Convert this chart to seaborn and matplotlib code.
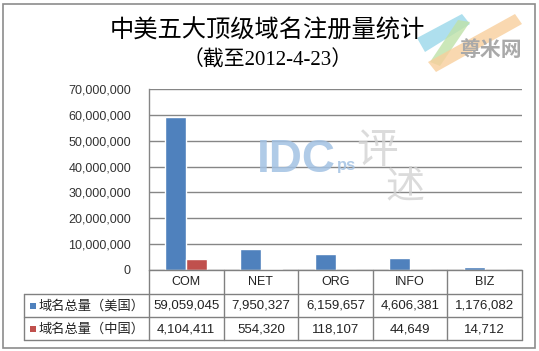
import matplotlib
matplotlib.use("Agg")
import matplotlib.pyplot as plt
import seaborn as sns
import pandas as pd
from matplotlib.lines import Line2D
from matplotlib.patches import Rectangle, Polygon

# ---- data ----
categories = ["COM", "NET", "ORG", "INFO", "BIZ"]
us_values = [59059045, 7950327, 6159657, 4606381, 1176082]
cn_values = [4104411, 554320, 118107, 44649, 14712]
series_names = ["域名总量（美国）", "域名总量（中国）"]
y_ticks = [0, 10000000, 20000000, 30000000, 40000000, 50000000, 60000000, 70000000]
title = "中美五大顶级域名注册量统计"
subtitle = "（截至2012-4-23）"

BLUE = "#4F81BD"
RED = "#C0504D"

df = pd.DataFrame({
    "cat": categories * 2,
    "series": [series_names[0]] * len(categories) + [series_names[1]] * len(categories),
    "value": us_values + cn_values,
})

sns.set_style("white")
plt.rcParams["font.family"] = ["Liberation Sans", "Noto Sans CJK SC", "DejaVu Sans"]

W, H = 539, 351
fig = plt.figure(figsize=(W / 100, H / 100), dpi=100)
fig.patch.set_facecolor("white")

def fx(x):
    return x / W

def fy(y):
    return 1 - y / H

L, R, T, B = 149, 522, 89, 270
ax = fig.add_axes([fx(L), fy(B), fx(R) - fx(L), fy(T) - fy(B)])
sns.barplot(data=df, x="cat", y="value", hue="series", order=categories,
            hue_order=series_names, palette=[BLUE, RED], width=0.56,
            saturation=1, ax=ax, legend=False, zorder=3)
ax.set_xlim(-0.5, len(categories) - 0.5)
ax.set_ylim(0, 70000000)
ax.set_yticks(y_ticks)
ax.set_yticklabels([f"{v:,}" for v in y_ticks], fontsize=9, color="#333333")
ax.tick_params(axis="y", length=0, pad=13)
ax.set_xticks([])
ax.set_xlabel("")
ax.set_ylabel("")
ax.grid(axis="y", color="#868686", linewidth=1, zorder=0)
ax.set_axisbelow(True)
for s in ["top", "right", "bottom"]:
    ax.spines[s].set_visible(False)
ax.spines["left"].set_color("#868686")
ax.spines["left"].set_linewidth(1)

# ---- outer chart border ----
fig.add_artist(Rectangle((fx(3), fy(348)), fx(535) - fx(3), fy(4) - fy(348),
                         fill=False, edgecolor="#8c8c8c", linewidth=1.2,
                         transform=fig.transFigure))

# ---- logo swooshes (behind title) ----
for pts, colr in [
    ([(417, 38), (462, 14), (470, 24), (425, 52)], "#9ad8ea"),
    ([(430, 62), (458, 20), (470, 22), (440, 66)], "#bfe2a8"),
    ([(428, 62), (515, 14), (522, 24), (436, 72)], "#f8cf9c"),
]:
    fig.add_artist(Polygon([(fx(a), fy(b)) for a, b in pts], closed=True,
                           facecolor=colr, edgecolor="none", alpha=0.8,
                           transform=fig.transFigure))
fig.text(fx(490), fy(49), "尊米网", ha="center", va="center", fontsize=15,
         fontweight="bold", family=["Noto Sans CJK SC"], color="#a9a9a9")

# ---- titles ----
fig.text(fx(267), fy(31), title, ha="center", va="center", fontsize=17.5,
         family=["Noto Sans CJK SC"], color="#000000")
fig.text(fx(268), fy(60), subtitle, ha="center", va="center", fontsize=15,
         family=["Liberation Serif", "Noto Sans CJK SC"], color="#000000")

# ---- data table ----
lc = "#808080"
rows_y = [270, 294, 317, 340]
cw = (R - L) / len(categories)
col_x = [L + i * cw for i in range(len(categories) + 1)]

def hline(x0, x1, y):
    fig.add_artist(Line2D([fx(x0), fx(x1)], [fy(y), fy(y)], color=lc, lw=1,
                          transform=fig.transFigure))

def vline(x, y0, y1):
    fig.add_artist(Line2D([fx(x), fx(x)], [fy(y0), fy(y1)], color=lc, lw=1,
                          transform=fig.transFigure))

hline(L, R, rows_y[0])
for y in rows_y[1:]:
    hline(24, R, y)
vline(24, rows_y[1], rows_y[3])
for x in col_x:
    vline(x, rows_y[0], rows_y[3])

for i, c in enumerate(categories):
    cx = (col_x[i] + col_x[i + 1]) / 2
    fig.text(fx(cx), fy(282), c, ha="center", va="center", fontsize=9, color="#222222")
    fig.text(fx(cx), fy(306), f"{us_values[i]:,}", ha="center", va="center",
             fontsize=9.5, color="#222222")
    fig.text(fx(cx), fy(329), f"{cn_values[i]:,}", ha="center", va="center",
             fontsize=9.5, color="#222222")

for ry, col, name in [(306, BLUE, series_names[0]), (329, RED, series_names[1])]:
    fig.add_artist(Rectangle((fx(30), fy(ry + 3)), fx(6), fy(0) - fy(6),
                             facecolor=col, edgecolor="none", transform=fig.transFigure))
    fig.text(fx(38), fy(ry), name, ha="left", va="center", fontsize=9.5,
             family=["Noto Sans CJK SC"], color="#222222")

# ---- watermarks ----
fig.text(fx(296), fy(160), "IDC", ha="center", va="center", fontsize=33,
         fontweight="bold", color="#a3c2e3", alpha=0.85)
fig.text(fx(347), fy(166), "ps", ha="center", va="center", fontsize=12,
         fontweight="bold", color="#a3c2e3", alpha=0.85)
fig.text(fx(377), fy(152), "评", ha="center", va="center", fontsize=30,
         family=["Noto Sans CJK SC"], color="#d2d2d2", alpha=0.8)
fig.text(fx(405), fy(186), "述", ha="center", va="center", fontsize=28,
         family=["Noto Sans CJK SC"], color="#d2d2d2", alpha=0.8)

fig.savefig("out.png", dpi=100, facecolor="white")
